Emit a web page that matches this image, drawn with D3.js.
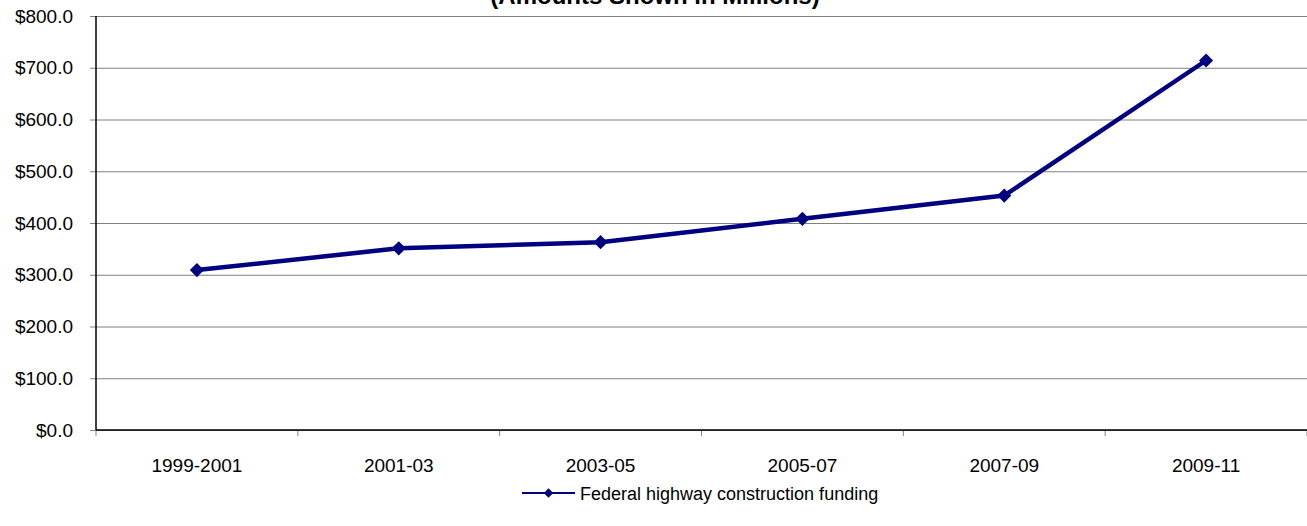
<!DOCTYPE html>
<html>
<head>
<meta charset="utf-8">
<script src="https://cdn.jsdelivr.net/npm/d3@7"></script>
<style>
  body { margin: 0; background: #fff; }
  svg { display: block; font-family: Arial, "Liberation Sans", sans-serif; }
</style>
</head>
<body>
<div class="chart"></div>
<script>
// data
const periods = ['1999-2001', '2001-03', '2003-05', '2005-07', '2007-09', '2009-11']
const funding = [309, 351, 363, 408, 453, 714]
const yTicks = [0, 100, 200, 300, 400, 500, 600, 700, 800]
const seriesName = 'Federal highway construction funding'
const subtitle = '(Amounts Shown in Millions)'

const W = 1307, H = 526
const margin = { top: 16, right: 0, bottom: 96, left: 96 }
const width = W - margin.left - margin.right
const height = H - margin.top - margin.bottom
const navy = '#000080'

const svg = d3.select('.chart').append('svg')
  .attr('width', W)
  .attr('height', H)

const g = svg.append('g')
  .attr('transform', `translate(${margin.left},${margin.top})`)

const x = d3.scaleBand().domain(periods).range([0, width])
const y = d3.scaleLinear().domain([0, 800]).range([height, 0])

// title (cut at the top like the original)
svg.append('text')
  .attr('x', 655)
  .attr('y', 4)
  .attr('text-anchor', 'middle')
  .attr('font-weight', 'bold')
  .attr('font-size', '24px')
  .text(subtitle)

// gridlines + left ticks
const yAxis = d3.axisLeft(y)
  .tickValues(yTicks)
  .tickSize(-width - 6)
  .tickPadding(17)
  .tickFormat(d => '$' + d3.format('.1f')(d))

const yg = g.append('g')
  .attr('transform', 'translate(-6,0)')
  .call(yAxis)
yg.select('.domain').remove()
yg.selectAll('line').attr('stroke', '#808080')
yg.selectAll('text').attr('font-size', '19px').attr('fill', '#000')
yg.selectAll('.tick line').attr('x1', 0)

// x axis: ticks between categories
const xBounds = periods.map(p => x(p)).concat([width])
g.selectAll('.xtick')
  .data(xBounds)
  .enter()
  .append('line')
  .attr('class', 'xtick')
  .attr('x1', d => d).attr('x2', d => d)
  .attr('y1', height).attr('y2', height + 6)
  .attr('stroke', '#808080')

g.selectAll('.xlabel')
  .data(periods)
  .enter()
  .append('text')
  .attr('class', 'xlabel')
  .attr('x', d => x(d) + x.bandwidth() / 2)
  .attr('y', height + 42)
  .attr('text-anchor', 'middle')
  .attr('font-size', '19px')
  .text(d => d)

// axis lines
g.append('line')
  .attr('x1', 0).attr('x2', width)
  .attr('y1', y(0)).attr('y2', y(0))
  .attr('stroke', '#000').attr('stroke-width', 1.5)
g.append('line')
  .attr('x1', 0).attr('x2', 0)
  .attr('y1', y(800)).attr('y2', y(0))
  .attr('stroke', '#000').attr('stroke-width', 1.5)

// series
const cx = (d, i) => x(periods[i]) + x.bandwidth() / 2
const line = d3.line()
  .x(cx)
  .y(d => y(d))

g.append('path')
  .datum(funding)
  .attr('d', line)
  .attr('fill', 'none')
  .attr('stroke', navy)
  .attr('stroke-width', 4.5)
  .attr('stroke-linejoin', 'round')

const diamond = d3.symbol().type(d3.symbolSquare).size(100)

g.selectAll('.marker')
  .data(funding)
  .enter()
  .append('path')
  .attr('class', 'marker')
  .attr('d', diamond)
  .attr('transform', (d, i) => `translate(${cx(d, i)},${y(d)}) rotate(45)`)
  .attr('fill', navy)

// legend
const lg = svg.append('g').attr('transform', 'translate(522,493)')
lg.append('line')
  .attr('x1', 0).attr('x2', 53)
  .attr('y1', 0).attr('y2', 0)
  .attr('stroke', navy).attr('stroke-width', 2)
lg.append('path')
  .attr('d', d3.symbol().type(d3.symbolSquare).size(45)())
  .attr('transform', 'translate(26.5,0) rotate(45)')
  .attr('fill', navy)
lg.append('text')
  .attr('x', 58)
  .attr('y', 7)
  .attr('font-size', '18px')
  .text(seriesName)
</script>
</body>
</html>
